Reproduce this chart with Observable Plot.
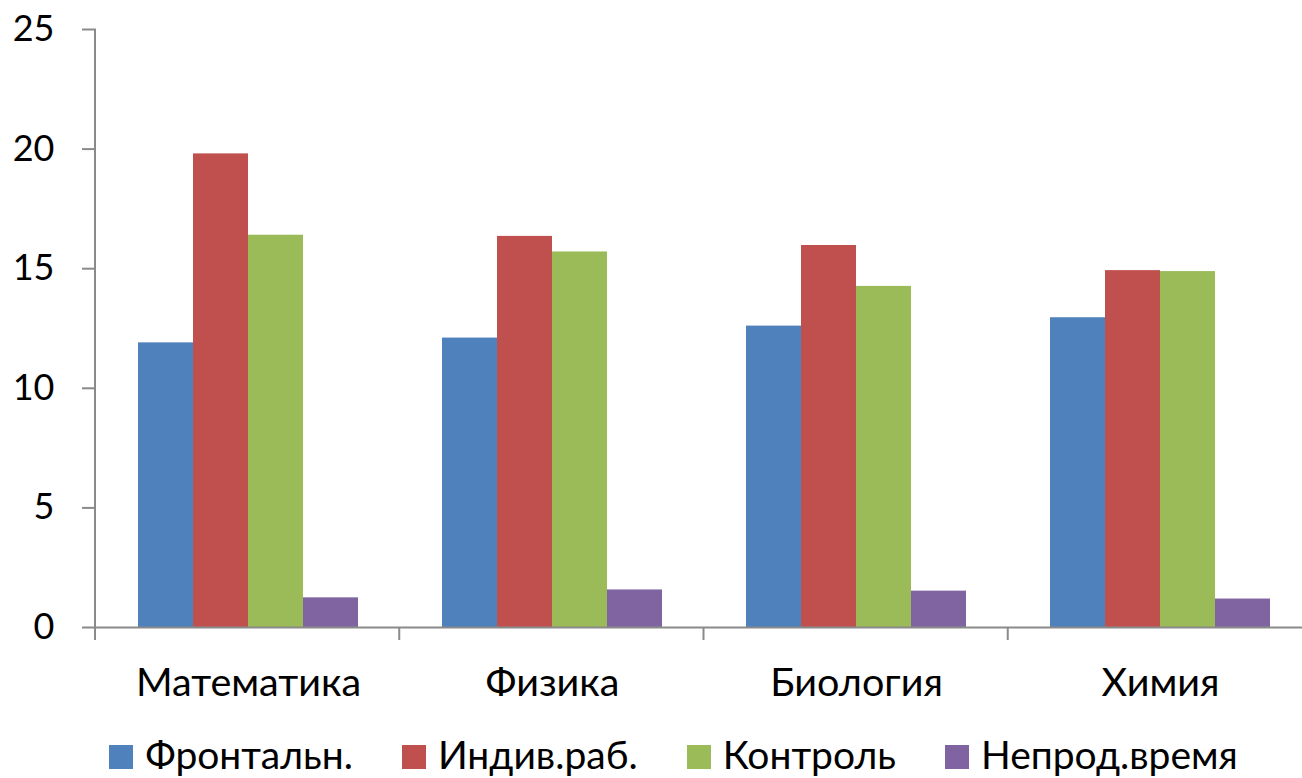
<!DOCTYPE html>
<html><head><meta charset="utf-8">
<script src="https://cdn.jsdelivr.net/npm/d3@7"></script>
<script src="https://cdn.jsdelivr.net/npm/@observablehq/plot@0.6"></script>
<style>
html,body{margin:0;padding:0;background:#fff;overflow:hidden;width:1302px;height:778px}
#wrap{position:relative;width:1302px;height:778px;overflow:hidden;font-family:Lato,sans-serif}
#chart{position:absolute;left:0;top:0;width:1312px}
#chart svg{max-width:none !important;width:1312px;height:730px}
#legend{position:absolute;left:0;top:734px;height:40px;width:1347px;display:flex;justify-content:center;align-items:center;gap:49px;font-size:39px;line-height:1;color:#000}
.item{display:flex;align-items:center;white-space:nowrap;height:40px}
.sw{width:24px;height:24px;margin-right:12px;flex:none;position:relative;top:3px}
.tx{display:inline-block;line-height:1;height:39px}
svg g[aria-label="y-axis tick"]{stroke:#8a8a8a}
svg g[aria-label="fx-axis tick label"]{font-size:39.5px}
</style></head><body><div id="wrap"><div id="chart"></div><div id="legend"></div></div>
<script>
const categories = ["Математика", "Физика", "Биология", "Химия"];
const series = ["Фронтальн.", "Индив.раб.", "Контроль", "Непрод.время"];
const frontal = [11.9, 12.1, 12.6, 12.95];
const indiv = [19.8, 16.35, 15.97, 14.92];
const control = [16.4, 15.7, 14.26, 14.88];
const nonprod = [1.24, 1.57, 1.52, 1.19];
const colors = ["#4F81BD", "#C0504D", "#9BBB59", "#8064A2"];
const yTicks = [0, 5, 10, 15, 20, 25];

const values = [frontal, indiv, control, nonprod];
const rows = [];
categories.forEach((c, i) => series.forEach((s, j) => rows.push({category: c, series: s, value: values[j][i]})));

const chart = Plot.plot({
  width: 1312, height: 730,
  marginLeft: 95, marginRight: 0, marginTop: 29, marginBottom: 103,
  style: {fontFamily: "Lato, sans-serif", fontSize: "36px", color: "#000", background: "#fff", overflow: "visible", maxWidth: "none"},
  fx: {domain: categories, padding: 0, label: null, tickSize: 0, tickPadding: 40, axis: "bottom"},
  x: {domain: series, paddingInner: 0, paddingOuter: 0.75, axis: null},
  y: {domain: [0, 25], ticks: yTicks, tickSize: 14, tickPadding: 28, label: null, axis: "left"},
  color: {domain: series, range: colors},
  marks: [
    Plot.barY(rows, {fx: "category", x: "series", y: "value", fill: "series"}),
    Plot.ruleY([0], {stroke: "#8a8a8a", strokeWidth: 2})
  ]
});
document.getElementById("chart").appendChild(chart);

// axis line and category boundary ticks, from the plot's own scales
const svgEl = chart.tagName.toLowerCase() === "svg" ? chart : chart.querySelector("svg");
const fxS = chart.scale("fx"), yS = chart.scale("y");
const fx = d3.scaleBand().domain(fxS.domain).range(fxS.range)
  .paddingInner(fxS.paddingInner ?? 0).paddingOuter(fxS.paddingOuter ?? 0).align(fxS.align ?? 0.5);
const y = d3.scaleLinear().domain(yS.domain).range(yS.range);
const g = d3.select(svgEl).append("g").attr("stroke", "#8a8a8a").attr("stroke-width", 2);
const bounds = categories.map(c => fx(c)).concat([fx(categories[categories.length - 1]) + fx.bandwidth()]);
g.append("line").attr("x1", bounds[0]).attr("x2", bounds[0]).attr("y1", y(25)).attr("y2", y(0) + 13);
bounds.slice(1).forEach(b => g.append("line").attr("x1", b).attr("x2", b).attr("y1", y(0)).attr("y2", y(0) + 13));
d3.select(svgEl).selectAll('g[aria-label="y-axis tick"] path, g.tick line').attr("stroke", "#8a8a8a").attr("stroke-width", 2);

// legend
const legend = document.getElementById("legend");
series.forEach((s, i) => {
  const it = document.createElement("div"); it.className = "item";
  const sw = document.createElement("span"); sw.className = "sw"; sw.style.background = colors[i];
  const tx = document.createElement("span"); tx.className = "tx"; tx.textContent = s;
  it.appendChild(sw); it.appendChild(tx); legend.appendChild(it);
});
</script></body></html>
